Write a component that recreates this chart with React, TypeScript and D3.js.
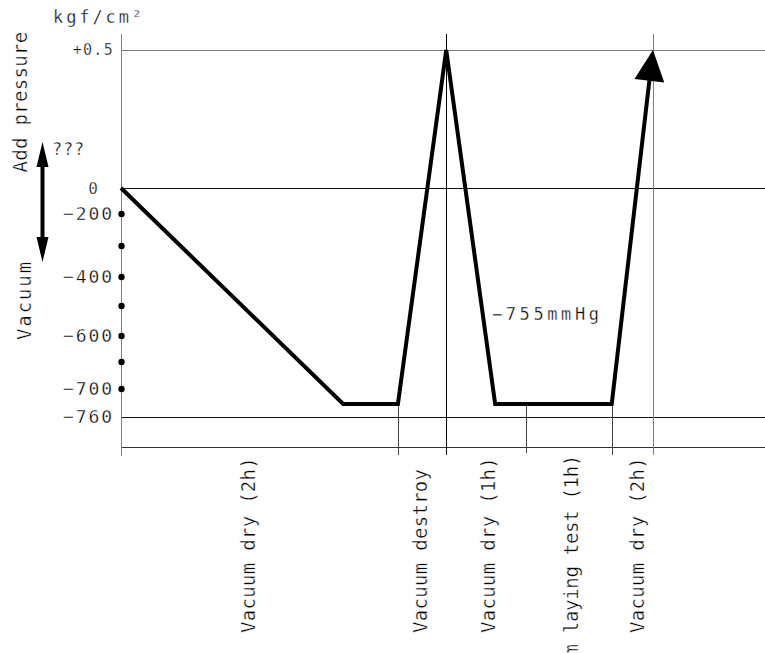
import React from "react";
import * as d3 from "d3";

// ---- data ----
const phaseTimes = [0, 34.5, 43, 50.5, 58.1, 76.2, 82.6];
const pressureValues = [0, -755, -755, 0.5, -755, -755, 0.5];

const yTickValues = [0.5, 0, -200, -400, -600, -700, -760];
const yTickLabels = ["+0.5", "0", "\u2212200", "\u2212400", "\u2212600", "\u2212700", "\u2212760"];
const yDotValues = [-200, -300, -400, -500, -600, -650, -700];
const gridValues = [0.5, 0, -760];

const markTimes = [43, 50.5, 62.9, 76.2, 82.6];
const markFromValues = [-755, 0.5, -755, -755, 0.5];

const phaseLabels = [
  "Vacuum dry (2h)",
  "Vacuum destroy",
  "Vacuum dry (1h)",
  "Vacuum laying test (1h)",
  "Vacuum dry (2h)",
];
const phaseLabelTimes = [19.7, 46.4, 57.0, 69.9, 80.1];

const unitLabel = "kgf/cm\u00b2";
const upLabel = "Add pressure";
const downLabel = "Vacuum";
const unknownLabel = "???";
const levelLabel = "\u2212755mmHg";
const levelLabelTime = 57.6;
const levelLabelValue = -548;

const W = 765;
const H = 653;
const FONT = "'DejaVu Sans Mono', monospace";

export default function App() {
  const x = d3.scaleLinear().domain([0, 100]).range([121, 765]);
  const y = d3
    .scaleLinear()
    .domain([0.5, 0, -200, -300, -400, -500, -600, -650, -700, -755, -760])
    .range([50, 188, 214, 246, 277, 306, 336, 362, 389, 404, 417]);

  const axisX = 121.5;
  const axisY = 447.5;
  const topY = 34;
  const bottomY = 456;
  const crisp = (v: number) => Math.round(v) + 0.5;

  const pts: [number, number][] = phaseTimes.map((t, i) => [x(t), y(pressureValues[i])]);
  // arrowhead on the last segment
  const p1 = pts[pts.length - 2];
  const p2 = pts[pts.length - 1];
  const dx = p2[0] - p1[0];
  const dy = p2[1] - p1[1];
  const len = Math.hypot(dx, dy);
  const ux = dx / len;
  const uy = dy / len;
  const headLen = 31;
  const headHalf = 15;
  const bx = p2[0] - ux * headLen;
  const by = p2[1] - uy * headLen;
  const nx = -uy;
  const ny = ux;
  const linePts = pts.slice(0, -1).concat([[p2[0] - ux * 25, p2[1] - uy * 25]]);
  const line = d3.line<[number, number]>().x((d) => d[0]).y((d) => d[1]);
  const head = `M${p2[0]},${p2[1]}L${bx + nx * headHalf},${by + ny * headHalf}L${bx - nx * headHalf},${by - ny * headHalf}Z`;

  // left double arrow
  const ax = 42.5;
  const aTop = 142;
  const aBot = 262;
  const ah = 25;
  const aw = 6;

  // thin CAD-like text: white stroke painted over the fill erodes glyph edges
  const thin = { fill: "#000", stroke: "#fff", strokeWidth: 0.35 } as const;

  return (
    <svg
      width={W}
      height={H}
      style={{ position: "absolute", left: 0, top: 0, background: "#fff" }}
      fontFamily={FONT}
    >
      <rect width={W} height={H} fill="#fff" />

      {/* horizontal grid lines */}
      {gridValues.map((v, i) => (
        <line
          key={"g" + i}
          x1={axisX}
          x2={W}
          y1={crisp(y(v))}
          y2={crisp(y(v))}
          stroke={v > 0 ? "#808080" : "#111"}
          strokeWidth={1}
        />
      ))}
      {/* bottom axis */}
      <line x1={axisX} x2={W} y1={axisY} y2={axisY} stroke="#333" strokeWidth={1} />

      {/* phase marks */}
      {markTimes.map((t, i) => {
        const from = markFromValues[i] > 0 ? topY : y(markFromValues[i]);
        return (
          <line
            key={"m" + i}
            x1={crisp(x(t))}
            x2={crisp(x(t))}
            y1={from}
            y2={i === 2 ? 453 : 455}
            stroke={i === markTimes.length - 1 ? "#808080" : i === 1 ? "#000" : "#444"}
            strokeWidth={1}
          />
        );
      })}

      {/* y axis */}
      <line x1={axisX} x2={axisX} y1={topY} y2={bottomY} stroke="#808080" strokeWidth={1} />
      {yDotValues.map((v, i) => (
        <circle key={"d" + i} cx={axisX} cy={y(v)} r={3.2} fill="#000" />
      ))}
      {yTickValues.map((v, i) => {
        const isZero = v === 0;
        const isTop = v > 0;
        return (
          <text
            key={"t" + i}
            x={isZero ? 98 : 114}
            y={y(v)}
            dy="0.36em"
            textAnchor="end"
            fontSize={isTop ? 15 : isZero ? 16 : 18}
            letterSpacing={isTop ? 1.3 : isZero ? 0 : 1.9}
            {...thin}
          >
            {yTickLabels[i]}
          </text>
        );
      })}

      {/* pressure curve */}
      <path
        d={line(linePts) || ""}
        fill="none"
        stroke="#000"
        strokeWidth={4}
        strokeLinejoin="miter"
      />
      <path d={head} fill="#000" />

      {/* phase labels */}
      {phaseLabels.map((lab, i) => {
        const long = lab.length > 16;
        const px = x(phaseLabelTimes[i]);
        const py = long ? 455 : 633;
        return (
          <text
            key={"p" + i}
            transform={`translate(${px},${py}) rotate(-90)`}
            textAnchor={long ? "end" : "start"}
            dominantBaseline="central"
            fontSize={19}
            letterSpacing={long ? -0.3 : 0.3}
            {...thin}
          >
            {lab}
          </text>
        );
      })}

      {/* level label */}
      <text x={x(levelLabelTime)} y={y(levelLabelValue)} fontSize={17} letterSpacing={3.6} {...thin}>
        {levelLabel}
      </text>

      {/* unit label */}
      <text x={53} y={23} fontSize={17} letterSpacing={2.9} {...thin}>
        {unitLabel}
      </text>

      {/* side labels */}
      <text
        transform={`translate(20,102) rotate(-90)`}
        textAnchor="middle"
        dominantBaseline="central"
        fontSize={19}
        letterSpacing={0.3}
        {...thin}
      >
        {upLabel}
      </text>
      <text
        transform={`translate(24,300) rotate(-90)`}
        textAnchor="middle"
        dominantBaseline="central"
        fontSize={19}
        letterSpacing={1.9}
        {...thin}
      >
        {downLabel}
      </text>
      <text x={52} y={155} fontSize={17} letterSpacing={0.8} {...thin}>
        {unknownLabel}
      </text>

      {/* double arrow */}
      <line x1={ax} x2={ax} y1={aTop + ah - 2} y2={aBot - ah + 2} stroke="#000" strokeWidth={4} />
      <path d={`M${ax},${aTop}L${ax - aw},${aTop + ah}L${ax + aw},${aTop + ah}Z`} fill="#000" />
      <path d={`M${ax},${aBot}L${ax - aw},${aBot - ah}L${ax + aw},${aBot - ah}Z`} fill="#000" />
    </svg>
  );
}
